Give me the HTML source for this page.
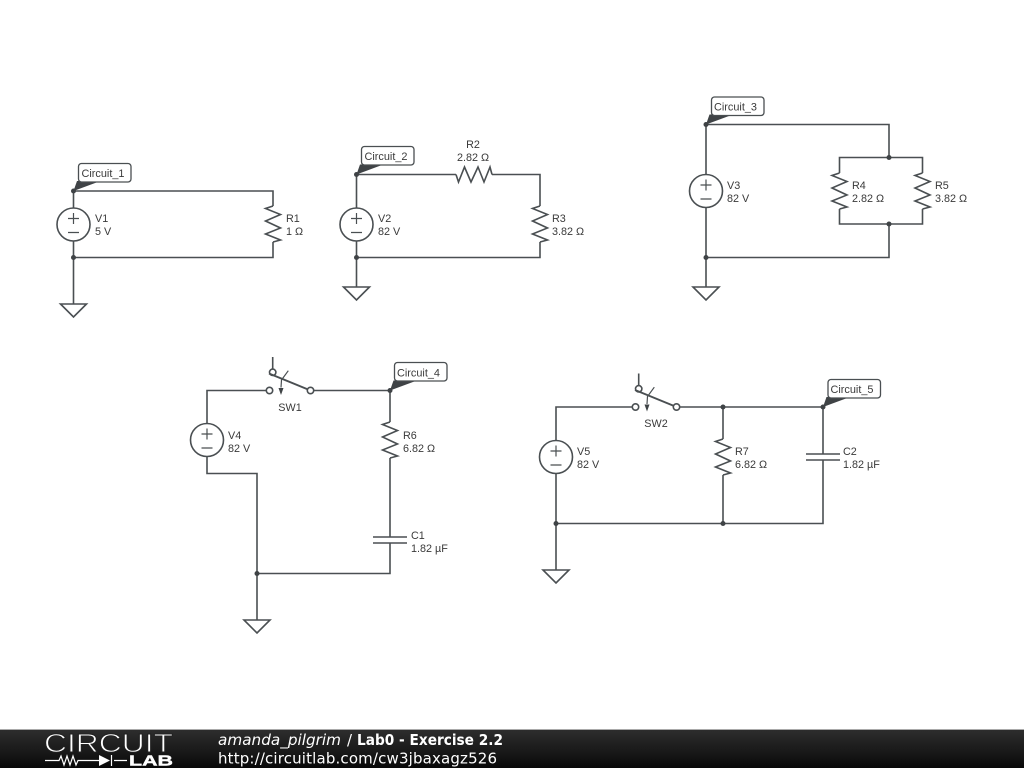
<!DOCTYPE html>
<html><head><meta charset="utf-8"><style>
html,body{margin:0;padding:0;background:#fff;width:1024px;height:768px;overflow:hidden}
svg{display:block}
.w{fill:none;stroke:#4a4f52;stroke-width:1.6;stroke-linejoin:miter}
.t{font:10.8px "Liberation Sans",sans-serif;fill:#3a3a3a}
.c{font:10.9px "Liberation Sans",sans-serif;fill:#3a3a3a}
.n{fill:#3f4346}
.b{fill:#fff;stroke:#4a4f52;stroke-width:1.3}
.f{font:15px "DejaVu Sans",sans-serif;fill:#fff}
</style></head><body>
<svg width="1024" height="768" viewBox="0 0 1024 768" xmlns="http://www.w3.org/2000/svg">
<defs>
<linearGradient id="g" x1="0" y1="0" x2="0" y2="1"><stop offset="0" stop-color="#2e2e2e"/><stop offset="0.6" stop-color="#181818"/><stop offset="1" stop-color="#080808"/></linearGradient>
<g id="v"><circle class="w" cx="0" cy="0" r="16.5" fill="#fff"/><path class="w" d="M-5.500-6H5.500M0-11.500V-.5M-5.500 8H5.500" style="stroke-width:1.2"/></g>
<g id="r"><path class="w" d="M0-18L-7.500-15.500L7.500-9.500L-7.500-3L7.500 4L-7.500 10L7.500 16L0 18"/></g>
<g id="gnd"><path class="w" d="M-13 0H13L0 13Z"/></g>
<g id="cp"><path class="w" d="M-17-3H17M-17 3H17"/></g>
<g id="sw"><circle class="w" cx="0" cy="0" r="3.200"/><circle class="w" cx="41" cy="0" r="3.200"/><circle class="w" cx="3.200" cy="-18.200" r="3.200"/><path class="w" d="M3.200-21.400V-33.500"/><path class="w" d="M-.5-17L38-1.300" style="stroke-width:1.900"/><path class="w" d="M18.800-19.800L12-10.500L11.500-3" style="stroke-width:1.200"/><path class="n" d="M9-2.500H14L11.500 4.500Z"/></g>
</defs>

<!-- Circuit 1 -->
<path class="w" d="M73.500 191V208M73.500 241V304M73.500 191H273V206M273 242V257.500H73.500"/>
<use href="#v" x="73.500" y="224.500"/><use href="#r" x="273" y="224"/><use href="#gnd" x="73.500" y="304"/>
<circle class="n" cx="73.500" cy="257.500" r="2.500"/><circle class="n" cx="73.500" cy="191" r="2.500"/>
<text class="t" x="95" y="222">V1</text><text class="t" x="95" y="235">5 V</text>
<text class="t" x="286" y="222">R1</text><text class="t" x="286" y="235">1 Ω</text>
<path class="n" d="M73.500 191L77 181H100.500Z"/><rect class="b" x="78.500" y="163.500" width="52.500" height="18.500" rx="3"/><text class="c" x="81.500" y="177">Circuit_1</text>

<!-- Circuit 2 -->
<path class="w" d="M356.500 174.500V208M356.500 241V287M356.500 174.500H456M492 174.500H540V206M540 242V257.500H356.500"/>
<use href="#v" x="356.500" y="224.500"/><use href="#r" transform="translate(474 174.500) rotate(-90)"/><use href="#r" x="540" y="224"/><use href="#gnd" x="356.500" y="287"/>
<circle class="n" cx="356.500" cy="257.500" r="2.500"/><circle class="n" cx="356.500" cy="174.500" r="2.500"/>
<text class="t" x="473" y="148" text-anchor="middle">R2</text><text class="t" x="473" y="161" text-anchor="middle">2.82 Ω</text>
<text class="t" x="378" y="222">V2</text><text class="t" x="378" y="235">82 V</text>
<text class="t" x="552" y="222">R3</text><text class="t" x="552" y="235">3.82 Ω</text>
<path class="n" d="M356.500 174.500L360 164.500H383.500Z"/><rect class="b" x="361.500" y="146.500" width="52.500" height="18.500" rx="3"/><text class="c" x="364.500" y="160">Circuit_2</text>

<!-- Circuit 3 -->
<path class="w" d="M706 124.500V174.500M706 207.500V287M706 124.500H889V157.500M839.500 173V157.500H922.500V173M839.500 209V224H922.500V209M889 224V257.500H706"/>
<use href="#v" x="706" y="191"/><use href="#r" x="839.500" y="191"/><use href="#r" x="922.500" y="191"/><use href="#gnd" x="706" y="287"/>
<circle class="n" cx="706" cy="257.500" r="2.500"/><circle class="n" cx="706" cy="124.500" r="2.500"/><circle class="n" cx="889" cy="157.500" r="2.500"/><circle class="n" cx="889" cy="224" r="2.500"/>
<text class="t" x="727" y="189">V3</text><text class="t" x="727" y="202">82 V</text>
<text class="t" x="852" y="189">R4</text><text class="t" x="852" y="202">2.82 Ω</text>
<text class="t" x="935" y="189">R5</text><text class="t" x="935" y="202">3.82 Ω</text>
<path class="n" d="M706 124.500L709.500 114.500H733Z"/><rect class="b" x="711.500" y="97" width="52.500" height="18.500" rx="3"/><text class="c" x="714" y="110.500">Circuit_3</text>

<!-- Circuit 4 -->
<path class="w" d="M207 423.500V390.500H266.500M313.500 390.500H390V422M390 458V537M390 543V573.500H257M207 456.500V473.500H257V620"/>
<use href="#sw" x="269.500" y="390.500"/>
<use href="#v" x="207" y="440"/><use href="#r" x="390" y="440"/><use href="#cp" x="390" y="540"/><use href="#gnd" x="257" y="620"/>
<circle class="n" cx="257" cy="573.500" r="2.500"/><circle class="n" cx="390" cy="390.500" r="2.500"/>
<text class="t" x="290" y="411" text-anchor="middle">SW1</text>
<text class="t" x="228" y="439">V4</text><text class="t" x="228" y="452">82 V</text>
<text class="t" x="403" y="439">R6</text><text class="t" x="403" y="452">6.82 Ω</text>
<text class="t" x="411" y="539">C1</text><text class="t" x="411" y="552">1.82 µF</text>
<path class="n" d="M390 390.500L393.500 380.500H417Z"/><rect class="b" x="394.500" y="362.500" width="52.500" height="18.500" rx="3"/><text class="c" x="397" y="376.500">Circuit_4</text>

<!-- Circuit 5 -->
<path class="w" d="M556 440.500V407H632.500M680 407H823V454M823 460V523.500H556M723 407V439M723 475V523.500M556 473.500V570"/>
<use href="#sw" x="635.500" y="407"/>
<use href="#v" x="556" y="457"/><use href="#r" x="723" y="457"/><use href="#cp" x="823" y="457"/><use href="#gnd" x="556" y="570"/>
<circle class="n" cx="556" cy="523.500" r="2.500"/><circle class="n" cx="723" cy="523.500" r="2.500"/><circle class="n" cx="723" cy="407" r="2.500"/><circle class="n" cx="823" cy="407" r="2.500"/>
<text class="t" x="656" y="427" text-anchor="middle">SW2</text>
<text class="t" x="577" y="455">V5</text><text class="t" x="577" y="468">82 V</text>
<text class="t" x="735" y="455">R7</text><text class="t" x="735" y="468">6.82 Ω</text>
<text class="t" x="843" y="455">C2</text><text class="t" x="843" y="468">1.82 µF</text>
<path class="n" d="M823 407L826.500 397H850Z"/><rect class="b" x="828" y="379.500" width="52.500" height="18.500" rx="3"/><text class="c" x="830.500" y="393">Circuit_5</text>

<!-- Footer -->
<rect x="0" y="729" width="1024" height="39" fill="url(#g)"/>
<rect x="0" y="729" width="1024" height="1" fill="#aaa"/>
<text x="44" y="752" textLength="129" lengthAdjust="spacingAndGlyphs" style="font:26px 'Liberation Sans',sans-serif;fill:#fff;stroke:#222;stroke-width:.9">CIRCUIT</text>
<path d="M45 760.500H59L61 756L64 765L67 756L70 765L73 756L76 765L78 760.500H99M114 760.500H127M111.500 755V766" fill="none" stroke="#fff" stroke-width="1.200"/>
<path d="M99 755V766L110 760.500Z" fill="#fff"/>
<text x="129" y="765.500" textLength="44" lengthAdjust="spacingAndGlyphs" style="font:bold 15px 'Liberation Sans',sans-serif;fill:#fff;stroke:#fff;stroke-width:.4">LAB</text>
<text class="f" x="218" y="745" style="font-style:italic" textLength="123" lengthAdjust="spacingAndGlyphs">amanda_pilgrim</text>
<text class="f" x="347" y="745">/</text>
<text class="f" x="357" y="745" style="font-weight:bold" textLength="146" lengthAdjust="spacingAndGlyphs">Lab0 - Exercise 2.2</text>
<text class="f" x="218" y="763.500" textLength="279" lengthAdjust="spacing">http://circuitlab.com/cw3jbaxagz526</text>
</svg>
</body></html>
